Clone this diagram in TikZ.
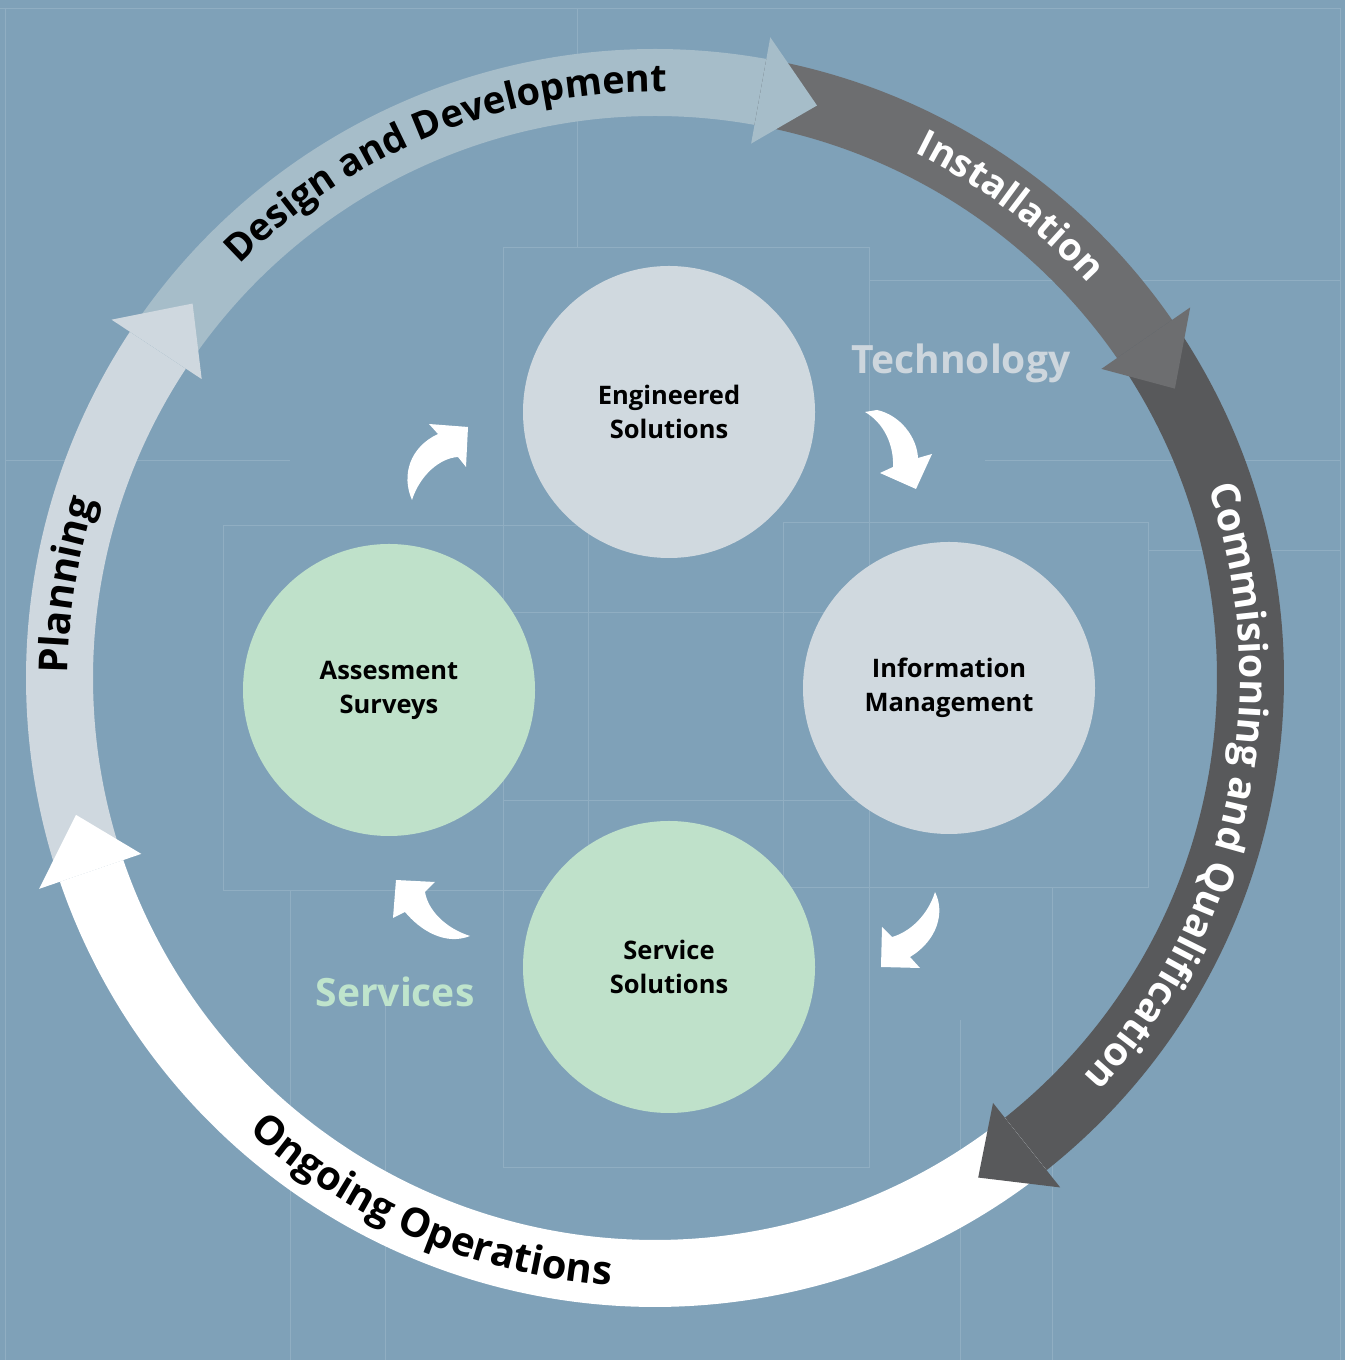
\documentclass[tikz,border=0pt]{standalone}
\usepackage{fontspec}
\setmainfont{Open Sans}
\newfontfamily\sbfont{Open Sans}
\usetikzlibrary{calc,decorations.text}
\definecolor{bgc}{HTML}{7FA1B8}
\definecolor{gridc}{HTML}{90AEC2}
\definecolor{planc}{HTML}{CFD8DF}
\definecolor{desc}{HTML}{A6BDC9}
\definecolor{instc}{HTML}{6D6E70}
\definecolor{commc}{HTML}{58595B}
\definecolor{grayc}{HTML}{D0D9DF}
\definecolor{greenc}{HTML}{BFE1CA}
\definecolor{techc}{HTML}{CDD6DD}
\definecolor{servc}{HTML}{BFE4CC}
\newcommand\RingSeg[3]{%
  \fill[#1] ($(C)+(#2:629)$) arc[start angle=#2, end angle=#3, radius=629]
    -- ($(C)+(#3:562)$) arc[start angle=#3, end angle=#2, radius=562] -- cycle;}
\newcommand\RingHead[2]{%
  \fill[#1] ($(C)+(#2:651)$) -- ($(C)+({#2-5.6}:595)$) -- ($(C)+(#2:543)$) -- cycle;}
\newcommand\ArcBlack{\sbfont\bfseries\fontsize{38}{45}\selectfont\color{black}}
\newcommand\ArcWhite{\sbfont\bfseries\fontsize{38}{45}\selectfont\color{white}}
\newcommand\ArcBlackL{\sbfont\bfseries\fontsize{40}{47}\selectfont\color{black}}
\newcommand\ArcWhiteL{\sbfont\bfseries\fontsize{39.5}{47}\selectfont\color{white}}
\begin{document}
\begin{tikzpicture}[x=1pt,y=1pt,
  circnode/.style={circle, minimum size=292pt, inner sep=0pt, align=center,
    font=\sbfont\bfseries\fontsize{25.5}{34}\selectfont, text=black},
  gridline/.style={draw=gridc, line width=0.9pt},
  lbl/.style={font=\sbfont\bfseries\fontsize{39}{48}\selectfont}]
\useasboundingbox (0,0) rectangle (1345,1360);
\fill[bgc] (0,0) rectangle (1345,1360);
% faint grid lines
\draw[gridline] (0,1352) -- (1340,1352);
\draw[gridline] (5,1352) -- (5,0);
\draw[gridline] (1340,1352) -- (1340,0);
\draw[gridline] (5,900) -- (290,900);
\draw[gridline] (985,900) -- (1340,900);
\draw[gridline] (577,1352) -- (577,1113);
\draw[gridline] (869,1080) -- (1340,1080);
\draw[gridline] (1148,810) -- (1340,810);
\draw[gridline] (503,193) rectangle (869,1113);
\draw[gridline] (503,748) -- (869,748);
\draw[gridline] (503,560) -- (869,560);
\draw[gridline] (223,470) rectangle (588,835);
\draw[gridline] (783,473) rectangle (1148,838);
\draw[gridline] (290,470) -- (290,0);
\draw[gridline] (385,375) -- (385,0);
\draw[gridline] (1052,473) -- (1052,0);
\draw[gridline] (960,340) -- (960,0);
\coordinate (C) at (655,682);
% ring bodies
\RingSeg{planc}{198.9}{146.6}
\RingSeg{desc}{146.6}{79.8}
\RingSeg{instc}{79.8}{34.7}
\RingSeg{commc}{34.7}{-51.5}
\RingSeg{white}{-51.5}{-161.1}
% ring heads
\RingHead{planc}{146.6}
\RingHead{desc}{79.8}
\RingHead{instc}{34.7}
\RingHead{commc}{-51.5}
\RingHead{white}{198.9}
% ring texts
\path[decorate,decoration={text along path, text align=center,
  text={|\ArcBlackL|Planning}}]
  ($(C)+(211:587)$) arc[start angle=211, end angle=131, radius=587];
\path[decorate,decoration={text along path, text align=center,
  text={|\ArcBlack|Design and Development}}]
  ($(C)+(160:586)$) arc[start angle=160, end angle=64, radius=586];
\path[decorate,decoration={text along path, text align=center,
  text={|\ArcWhite|Installation}}]
  ($(C)+(83:586)$) arc[start angle=83, end angle=23, radius=586];
\path[decorate,decoration={text along path, text align=center,
  text={|\ArcWhiteL|Commisioning and Qualification}}]
  ($(C)+(40:585)$) arc[start angle=40, end angle=-64, radius=585];
\path[decorate,decoration={text along path, text align=center,
  text={|\ArcBlackL|Ongoing Operations}}]
  ($(C)+(-160:609)$) arc[start angle=-160, end angle=-66, radius=609];
% inner circles
\node[circnode, fill=grayc] (eng) at (669,948) {Engineered\\Solutions};
\node[circnode, fill=grayc] (info) at (949,672) {Information\\Management};
\node[circnode, fill=greenc] (serv) at (669,393) {Service\\Solutions};
\node[circnode, fill=greenc] (asse) at (389,670) {Assesment\\Surveys};
% labels
\node[lbl, text=techc] (tech) at (961,997) {Technology};
\node[lbl, text=servc] (servlbl) at (395,368) {Services};
% small curved arrows
\fill[white] (412,860) .. controls (401,885) and (410,913) .. (438,926)
  -- (429,936) -- (468,933) -- (466,893) -- (458,903)
  .. controls (440,902) and (420,885) .. (412,860) -- cycle;
\fill[white] (877,950) .. controls (900,945) and (917,923) .. (918,902)
  -- (932,906) -- (916,871) -- (880,887) -- (893,893)
  .. controls (894,915) and (884,937) .. (865,948) -- cycle;
\fill[white] (935,468) .. controls (945,448) and (938,420) .. (910,403)
  -- (920,392) -- (881,393) -- (882,433) -- (892,423)
  .. controls (910,428) and (928,445) .. (935,468) -- cycle;
\fill[white] (470,424) .. controls (445,414) and (420,430) .. (405,448)
  -- (393,442) -- (396,480) -- (435,478) -- (425,468)
  .. controls (428,450) and (445,432) .. (470,424) -- cycle;
\end{tikzpicture}
\end{document}
